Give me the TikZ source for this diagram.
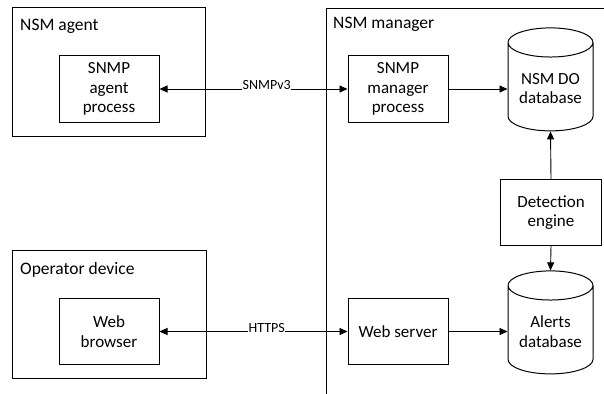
\documentclass[tikz,border=0pt]{standalone}
\usepackage{fontspec}
\setmainfont{Carlito}
\usetikzlibrary{arrows.meta,shapes.geometric}

\begin{document}
\begin{tikzpicture}[x=1pt,y=-1pt,
  outerbox/.style={draw,line width=1pt,anchor=north west,inner sep=0pt},
  grouplabel/.style={anchor=base west,inner sep=0pt,font=\fontsize{17.5}{20}\selectfont},
  proc/.style={draw,line width=1pt,minimum width=100pt,minimum height=66pt,
    align=center,inner sep=1pt,font=\fontsize{17}{19.5}\selectfont},
  db/.style={cylinder,shape border rotate=90,draw,line width=1pt,aspect=0.45,
    minimum width=85pt,minimum height=103pt,align=center,inner sep=1pt,
    font=\fontsize{17}{19.5}\selectfont},
  link/.style={line width=0.9pt,-{Triangle[length=8pt,width=7pt]}},
  twoway/.style={line width=0.9pt,{Triangle[length=8pt,width=7pt]}-{Triangle[length=8pt,width=7pt]}},
  linklabel/.style={fill=white,inner sep=0.6pt,yshift=3.5pt,font=\fontsize{14}{16}\selectfont}
]
\useasboundingbox (0,0) rectangle (604,393);
\clip (0,0) rectangle (604,393);
\fill[white] (0,0) rectangle (604,393);

% group frames
\node[outerbox,minimum width=193pt,minimum height=129pt] (agentdev) at (12,7) {};
\node[outerbox,minimum width=194pt,minimum height=128pt] (opdev) at (12,250) {};
\node[outerbox,minimum width=300pt,minimum height=400pt] (manager) at (326,8) {};

\node[grouplabel] (agentlbl) at (20,31) {NSM agent};
\node[grouplabel] (oplbl) at (20,274) {Operator device};
\node[grouplabel] (mgrlbl) at (333,29) {NSM manager};

% components
\node[proc] (agentproc) at (109,89) {SNMP\\agent\\process};
\node[proc] (mgrproc) at (398,89) {SNMP\\manager\\process};
\node[proc] (browser) at (109,331.5) {Web\\browser};
\node[proc] (webserver) at (398,331.5) {Web server};
\node[proc,minimum width=101pt] (detect) at (551,212.5) {Detection\\engine};

\node[db] (dodb) at (550.5,88.5) {NSM DO\\database};
\node[db] (alertdb) at (550.5,331.5) {Alerts\\database};

% connections
\draw[twoway] (agentproc) -- node[linklabel,pos=0.57] {SNMPv3} (mgrproc);
\draw[twoway] (browser) -- node[linklabel,pos=0.57] {HTTPS} (webserver);
\draw[link] (mgrproc.east) -- (mgrproc.east -| dodb.west);
\draw[link] (webserver.east) -- (webserver.east -| alertdb.west);
\draw[link] (detect.north) -- (dodb.bottom);
\draw[link] (detect.south) -- (alertdb.top);
\end{tikzpicture}
\end{document}
